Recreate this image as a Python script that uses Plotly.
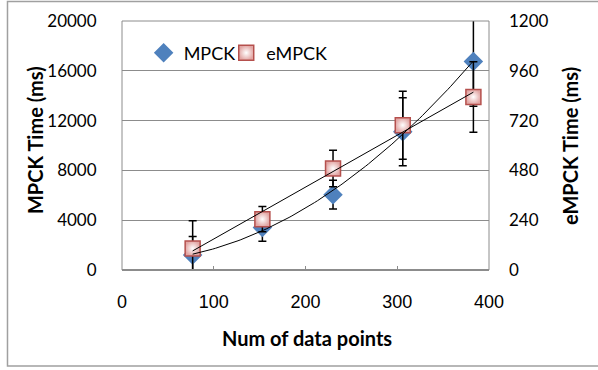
import numpy as np
import plotly.graph_objects as go

# ---- data ----
num_points = [77, 153, 230, 306, 383]
mpck_time = [1200, 3410, 6050, 11100, 16750]
mpck_err = [1500, 1100, 1150, 2730, 3600]
empck_time = [104, 245, 489, 698, 834]
empck_err = [133, 61, 88, 164, 170]

left_ticks = [0, 4000, 8000, 12000, 16000, 20000]
right_ticks = [0, 240, 480, 720, 960, 1200]
x_ticks = [0, 100, 200, 300, 400]

# trendlines: polynomial (order 2) for MPCK, linear for eMPCK
xs = np.linspace(min(num_points), max(num_points), 100)
p_mpck = np.polyfit(num_points, mpck_time, 2)
p_empck = np.polyfit(num_points, empck_time, 1)

FONT = "Lato"
BLUE = "#4F81BD"
GRID = "#8C8C8C"

fig = go.Figure()

fig.add_trace(go.Scatter(
    x=num_points, y=mpck_time, mode="markers", name="MPCK",
    marker=dict(symbol="diamond", size=15, color=BLUE, line=dict(width=0)),
    error_y=dict(type="data", array=mpck_err, visible=True, color="black",
                 thickness=1.5, width=4),
    yaxis="y", showlegend=True, legend="legend",
))

fig.add_trace(go.Scatter(
    x=num_points, y=empck_time, mode="markers", name="eMPCK",
    marker=dict(symbol="square", size=15, color="#E2A6A4",
                gradient=dict(type="radial", color="#FFFFFF"),
                line=dict(width=1.5, color="#B5504D")),
    error_y=dict(type="data", array=empck_err, visible=True, color="black",
                 thickness=1.5, width=4),
    yaxis="y2", showlegend=True, legend="legend2",
))

fig.add_trace(go.Scatter(
    x=xs, y=np.polyval(p_empck, xs), mode="lines",
    line=dict(color="black", width=1), yaxis="y2", showlegend=False,
    hoverinfo="skip",
))

fig.add_trace(go.Scatter(
    x=xs, y=np.polyval(p_mpck, xs), mode="lines",
    line=dict(color="black", width=1), yaxis="y3", showlegend=False,
    hoverinfo="skip",
))

fig.update_layout(
    width=598, height=370,
    margin=dict(l=122, r=109, t=21, b=100),
    paper_bgcolor="white", plot_bgcolor="white",
    font=dict(family=FONT, size=17, color="black"),
    xaxis=dict(
        range=[0, 400], tickvals=x_ticks, showgrid=False, zeroline=False,
        ticks="inside", ticklen=4, tickcolor=GRID, automargin=False,
        tickfont=dict(family="Liberation Sans", size=18),
        ticklabelstandoff=19, showline=False,
    ),
    yaxis=dict(
        range=[0, 20000], tickvals=left_ticks, tickformat="d",
        showgrid=True, gridcolor=GRID, automargin=False,
        gridwidth=1, zeroline=False, ticks="outside", ticklen=5,
        tickcolor="rgba(0,0,0,0)", ticklabelstandoff=16,
    ),
    yaxis2=dict(
        range=[0, 1200], tickvals=right_ticks, overlaying="y", side="right",
        showgrid=False, zeroline=False, ticks="", ticklabelstandoff=19,
        automargin=False,
    ),
    yaxis3=dict(range=[0, 20000], overlaying="y", visible=False),
    legend=dict(x=0.059, y=0.871, xanchor="left", yanchor="middle",
                orientation="h", bgcolor="rgba(0,0,0,0)",
                font=dict(family=FONT, size=18)),
    legend2=dict(x=0.284, y=0.871, xanchor="left", yanchor="middle",
                 orientation="h", bgcolor="rgba(0,0,0,0)",
                 font=dict(family=FONT, size=18)),
    annotations=[
        dict(text="<b>Num of data points</b>", xref="paper", yref="paper",
             x=0.505, y=-0.273, xanchor="center", yanchor="middle",
             showarrow=False, font=dict(family=FONT, size=20)),
        dict(text="<b>MPCK Time (ms)</b>", xref="paper", yref="paper",
             x=-0.237, y=0.522, xanchor="center", yanchor="middle",
             textangle=-90, showarrow=False, font=dict(family=FONT, size=20)),
        dict(text="<b>eMPCK Time (ms)</b>", xref="paper", yref="paper",
             x=1.2207, y=0.498, xanchor="center", yanchor="middle",
             textangle=-90, showarrow=False, font=dict(family=FONT, size=20)),
    ],
    shapes=[
        dict(type="rect", xref="paper", yref="paper", x0=0, x1=1, y0=0, y1=1,
             line=dict(color=GRID, width=1), fillcolor="rgba(0,0,0,0)",
             layer="above"),
        dict(type="line", xref="paper", yref="paper", x0=0, x1=1, y0=0, y1=0,
             line=dict(color=GRID, width=2), layer="above"),
        dict(type="rect", xref="paper", yref="paper", x0=-0.312, x1=1.302,
             y0=-0.3855, y1=1.078, line=dict(color="#A0A0A0", width=1.5),
             fillcolor="rgba(0,0,0,0)", layer="below"),
    ],
)

fig.write_html("out.html",
               config={"displayModeBar": False},
               post_script="document.body.style.margin='0';")
